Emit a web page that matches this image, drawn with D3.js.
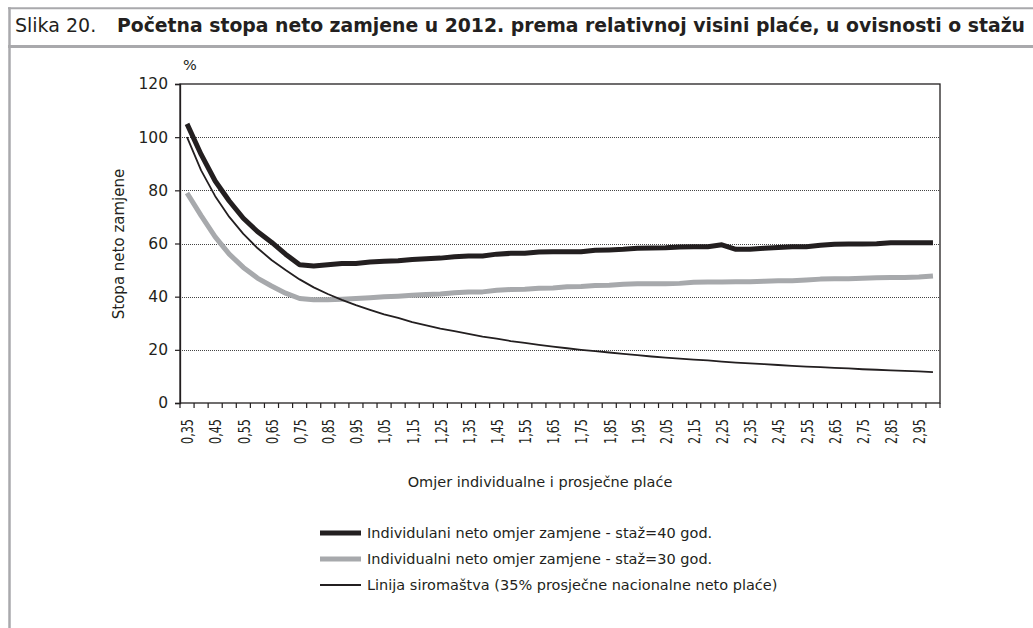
<!DOCTYPE html>
<html><head><meta charset="utf-8">
<script src="https://cdn.jsdelivr.net/npm/d3@7"></script>
<style>
html,body{margin:0;padding:0;background:#fff;}
svg{display:block;font-family:"DejaVu Sans",sans-serif;}
</style></head>
<body>
<svg id="chart" width="1033" height="628"></svg>
<script>
const categories = ["0.35","0.40","0.45","0.50","0.55","0.60","0.65","0.70","0.75","0.80","0.85","0.90","0.95","1.00","1.05","1.10","1.15","1.20","1.25","1.30","1.35","1.40","1.45","1.50","1.55","1.60","1.65","1.70","1.75","1.80","1.85","1.90","1.95","2.00","2.05","2.10","2.15","2.20","2.25","2.30","2.35","2.40","2.45","2.50","2.55","2.60","2.65","2.70","2.75","2.80","2.85","2.90","2.95","3.00"];
const staz40 = [105,93.5,83.5,76,69.5,64.5,60.5,56,52,51.5,52,52.5,52.5,53,53.3,53.5,54,54.3,54.5,55,55.3,55.3,56,56.3,56.3,56.8,56.9,56.9,56.9,57.5,57.6,57.8,58.2,58.3,58.4,58.7,58.8,58.8,59.5,57.8,57.8,58.2,58.5,58.8,58.8,59.3,59.7,59.8,59.8,59.9,60.3,60.3,60.3,60.3];
const staz30 = [79,70.5,62.5,56,51,47,44,41.3,39.3,38.8,38.8,39,39.3,39.6,40,40.2,40.5,40.8,41,41.5,41.8,41.8,42.4,42.7,42.8,43.2,43.3,43.7,43.8,44.2,44.3,44.7,44.9,44.9,44.9,45,45.4,45.5,45.5,45.6,45.6,45.8,46,46,46.3,46.6,46.7,46.7,46.9,47.1,47.2,47.2,47.4,47.8];
const siromastvo = [100,87.5,77.8,70,63.6,58.3,53.8,50,46.5,43.5,41,38.8,36.8,35,33.3,32,30.4,29.2,28,27,26,25,24.2,23.3,22.6,21.9,21.2,20.6,20,19.5,19,18.5,18,17.5,17.1,16.7,16.3,16,15.6,15.2,14.9,14.6,14.3,14,13.7,13.5,13.2,13,12.7,12.5,12.3,12.1,11.9,11.6];
const yTicks = [0,20,40,60,80,100,120];
const seriesNames = ["Individulani neto omjer zamjene - staž=40 god.","Individualni neto omjer zamjene - staž=30 god.","Linija siromaštva (35% prosječne nacionalne neto plaće)"];
const titlePrefix = "Slika 20.";
const titleMain = "Početna stopa neto zamjene u 2012. prema relativnoj visini plaće, u ovisnosti o stažu";
const yTitle = "Stopa neto zamjene";
const xTitle = "Omjer individualne i prosječne plaće";
const unitLabel = "%";

const ink = "#231f20", grayLine = "#a7a9ac", frameGray = "#a9a9ac";
const svg = d3.select("#chart");

// frame
svg.append("line").attr("x1",8).attr("x2",1033).attr("y1",8.3).attr("y2",8.3).attr("stroke",frameGray).attr("stroke-width",2);
svg.append("line").attr("x1",9.5).attr("x2",9.5).attr("y1",7.3).attr("y2",628).attr("stroke",frameGray).attr("stroke-width",2.5);
svg.append("line").attr("x1",8).attr("x2",1033).attr("y1",46.6).attr("y2",46.6).attr("stroke",frameGray).attr("stroke-width",3);

// title
svg.append("text").attr("x",15).attr("y",32).attr("font-size",19).attr("fill",ink)
  .text(titlePrefix);
svg.append("text").attr("x",117).attr("y",32).attr("font-size",19).attr("font-weight","bold").attr("fill",ink)
  .attr("textLength",908).attr("lengthAdjust","spacingAndGlyphs").text(titleMain);

const L = 180, R = 940, T = 84, B = 403;
const x = d3.scaleBand().domain(categories).range([L,R]).padding(0);
const y = d3.scaleLinear().domain([0,120]).range([B,T]);
const cx = c => x(c) + x.bandwidth()/2;

// gridlines
svg.append("g").selectAll("line").data(yTicks.filter(v=>v>0 && v<120)).join("line")
  .attr("x1",L).attr("x2",R).attr("y1",d=>Math.round(y(d))+0.5).attr("y2",d=>Math.round(y(d))+0.5)
  .attr("stroke","#444").attr("stroke-width",1).attr("stroke-dasharray","1,1");

// y axis
const yAxis = d3.axisLeft(y).tickValues(yTicks).tickSize(5).tickPadding(7).tickFormat(d3.format("d"));
const gy = svg.append("g").attr("transform",`translate(${L},0)`).call(yAxis);
gy.select(".domain").attr("stroke",ink).attr("stroke-width",1.3);
gy.selectAll(".tick line").attr("stroke",ink).attr("stroke-width",1.2);
gy.selectAll(".tick text").attr("font-size",15.5).attr("fill",ink).attr("font-family","DejaVu Sans");

// x axis: boundary ticks
const boundaries = categories.map(c=>x(c)).concat([R]);
svg.append("g").selectAll("line").data(boundaries).join("line")
  .attr("x1",d=>d).attr("x2",d=>d).attr("y1",B).attr("y2",B+5)
  .attr("stroke",ink).attr("stroke-width",1.2);
svg.append("g").selectAll("text").data(categories.filter((c,i)=>i%2===0)).join("text")
  .attr("transform",d=>`translate(${cx(d)},419) rotate(-90)`)
  .attr("text-anchor","end").attr("dy","0.38em").attr("font-size",16.5).attr("fill",ink)
  .attr("textLength",25).attr("lengthAdjust","spacingAndGlyphs")
  .text(d=>d.replace(".",","));

// plot border
svg.append("rect").attr("x",L).attr("y",T).attr("width",R-L).attr("height",B-T)
  .attr("fill","none").attr("stroke",ink).attr("stroke-width",1.3);

// lines
const lineGen = vals => d3.line().x((d,i)=>cx(categories[i])).y(d=>y(d))(vals);
svg.append("path").attr("d",lineGen(staz30)).attr("fill","none").attr("stroke",grayLine).attr("stroke-width",5).attr("stroke-linejoin","round");
svg.append("path").attr("d",lineGen(staz40)).attr("fill","none").attr("stroke",ink).attr("stroke-width",5).attr("stroke-linejoin","round");
svg.append("path").attr("d",lineGen(siromastvo)).attr("fill","none").attr("stroke",ink).attr("stroke-width",1.8).attr("stroke-linejoin","round");

// axis titles
svg.append("text").attr("x",183).attr("y",70).attr("font-size",14.5).attr("fill",ink).text(unitLabel);
svg.append("text").attr("transform","translate(124,244) rotate(-90)").attr("text-anchor","middle")
  .attr("font-size",15).attr("fill",ink).text(yTitle);
svg.append("text").attr("x",540).attr("y",487).attr("text-anchor","middle")
  .attr("font-size",14.5).attr("fill",ink).text(xTitle);

// legend
const legendStyles = [{c:ink,w:5},{c:grayLine,w:5},{c:ink,w:1.8}];
const lg = svg.append("g");
seriesNames.forEach((n,i)=>{
  const yy = 533 + i*26;
  lg.append("line").attr("x1",320).attr("x2",361).attr("y1",yy).attr("y2",yy)
    .attr("stroke",legendStyles[i].c).attr("stroke-width",legendStyles[i].w);
  lg.append("text").attr("x",367).attr("y",yy+5).attr("font-size",14.5).attr("fill",ink).text(n);
});
</script>
</body></html>
